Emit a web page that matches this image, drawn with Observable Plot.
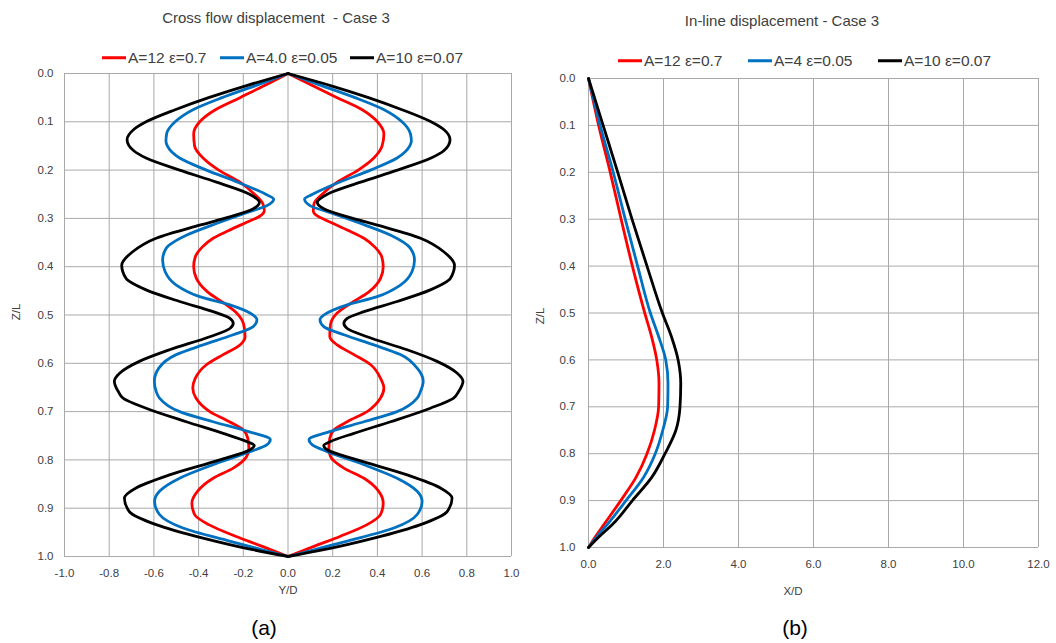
<!DOCTYPE html>
<html><head><meta charset="utf-8">
<script src="https://cdn.jsdelivr.net/npm/d3@7"></script>
<script src="https://cdn.jsdelivr.net/npm/@observablehq/plot@0.6"></script>
<style>
body{margin:0;background:#fff;font-family:"Liberation Sans",Arial,sans-serif;}
#root{position:relative;width:1056px;height:643px;overflow:hidden;background:#fff;}
#root svg{position:absolute;top:0;}
.abs{position:absolute;white-space:pre;color:#404040;transform:translate(-50%,-50%);line-height:1;}
.rot{transform:translate(-50%,-50%) rotate(-90deg);}
.leg{position:absolute;display:flex;align-items:center;font-size:15.5px;color:#404040;white-space:pre;transform:translateY(-50%);line-height:1;}
.sw{display:inline-block;width:24px;height:3px;margin-right:2px;}
</style></head><body><div id="root"></div>
<script>
// ---- Cross flow displacement (Y/D vs Z/L), right and left branches ----
const redZ = [0,.025,.05,.075,.1,.125,.15,.175,.2,.225,.25,.27,.284,.295,.308,.325,.341,.36,.38,.4,.424,.452,.476,.496,.52,.545,.562,.582,.603,.631,.651,.672,.7,.721,.738,.755,.776,.793,.817,.838,.865,.889,.913,.934,.958,.979,1];
const redRight = [0,.109,.22,.332,.40,.429,.421,.384,.314,.22,.153,.116,.113,.131,.19,.27,.34,.39,.42,.426,.414,.362,.28,.22,.19,.187,.22,.295,.37,.414,.429,.414,.354,.265,.205,.187,.183,.19,.25,.34,.406,.426,.414,.354,.235,.116,0];
const redLeft = [0,-.105,-.215,-.325,-.395,-.422,-.418,-.38,-.31,-.215,-.15,-.112,-.106,-.125,-.185,-.265,-.335,-.385,-.415,-.422,-.41,-.36,-.285,-.23,-.198,-.192,-.215,-.29,-.365,-.415,-.426,-.412,-.35,-.262,-.2,-.18,-.175,-.185,-.245,-.335,-.405,-.43,-.418,-.355,-.235,-.115,0];

const blueZ = [0,.025,.05,.075,.1,.125,.14,.15,.175,.2,.225,.25,.26,.274,.288,.308,.335,.362,.386,.41,.438,.462,.479,.496,.51,.524,.541,.562,.582,.61,.637,.658,.672,.7,.721,.741,.758,.769,.783,.81,.838,.865,.886,.913,.941,.968,.986,1];
const blueRight = [0,.15,.30,.43,.51,.548,.552,.545,.488,.369,.23,.11,.074,.10,.19,.31,.46,.548,.566,.555,.503,.399,.265,.175,.143,.16,.25,.384,.503,.578,.605,.593,.578,.488,.34,.19,.094,.109,.176,.34,.488,.578,.60,.578,.474,.265,.116,0];
const blueLeft = [0,-.145,-.295,-.425,-.505,-.543,-.546,-.54,-.485,-.365,-.225,-.10,-.064,-.095,-.185,-.305,-.455,-.545,-.561,-.55,-.5,-.395,-.26,-.17,-.139,-.155,-.245,-.38,-.5,-.578,-.598,-.59,-.575,-.485,-.335,-.18,-.079,-.095,-.17,-.335,-.485,-.575,-.597,-.575,-.47,-.262,-.115,0];

const blackZ = [0,.025,.05,.075,.1,.116,.137,.16,.175,.2,.225,.25,.267,.28,.3,.314,.341,.369,.397,.424,.448,.472,.493,.507,.517,.528,.545,.572,.596,.62,.637,.658,.672,.693,.721,.745,.762,.77,.779,.8,.831,.858,.879,.907,.934,.962,.986,1];
const blackRight = [0,.19,.36,.51,.64,.697,.725,.697,.64,.49,.325,.176,.131,.16,.29,.40,.593,.697,.745,.727,.637,.488,.34,.265,.25,.265,.354,.533,.667,.756,.783,.764,.741,.637,.459,.295,.19,.16,.175,.31,.533,.682,.734,.712,.593,.384,.16,0];
const blackLeft = [0,-.185,-.355,-.505,-.635,-.69,-.72,-.69,-.635,-.485,-.32,-.172,-.128,-.155,-.285,-.395,-.59,-.695,-.744,-.725,-.635,-.485,-.335,-.26,-.245,-.26,-.35,-.53,-.665,-.752,-.777,-.76,-.738,-.635,-.455,-.29,-.185,-.151,-.17,-.305,-.53,-.68,-.732,-.71,-.59,-.38,-.158,0];

// ---- In-line displacement (X/D vs Z/L) ----
const inlineZ = [0,.1,.2,.3,.4,.5,.55,.6,.65,.7,.75,.8,.85,.9,.95,.975,1];
const inlineRed = [0,.27,.58,.87,1.17,1.5,1.68,1.82,1.88,1.87,1.76,1.56,1.27,.86,.42,.2,0];
const inlineBlue = [0,.31,.66,.98,1.31,1.65,1.87,2.06,2.12,2.11,1.98,1.78,1.47,1.0,.51,.24,0];
const inlineBlack = [0,.39,.78,1.16,1.56,1.97,2.21,2.39,2.46,2.44,2.33,2.04,1.69,1.17,.65,.31,0];

// ---- labels / ticks ----
const namesA = ["A=12 ε=0.7","A=4.0 ε=0.05","A=10 ε=0.07"];
const namesB = ["A=12 ε=0.7","A=4 ε=0.05","A=10 ε=0.07"];
const seriesColors = ["#ff0000","#0070c0","#000000"];
const yTicksA = [-1.0,-0.8,-0.6,-0.4,-0.2,0.0,0.2,0.4,0.6,0.8,1.0];
const zTicks = [0.0,0.1,0.2,0.3,0.4,0.5,0.6,0.7,0.8,0.9,1.0];
const xTicksB = [0,2,4,6,8,10,12];
const titleA = "Cross flow displacement  - Case 3";
const titleB = "In-line displacement - Case 3";

const gridColor = "#a9a9a9";
const fmt = d => (+d).toFixed(1);

function rows(name, zs, vals, branch) {
  return zs.map((z, i) => ({series: name, branch: name + "|" + branch, z, v: vals[i]}));
}
const crossData = [
  ...rows(namesA[0], redZ, redRight, "R"), ...rows(namesA[0], redZ, redLeft, "L"),
  ...rows(namesA[1], blueZ, blueRight, "R"), ...rows(namesA[1], blueZ, blueLeft, "L"),
  ...rows(namesA[2], blackZ, blackRight, "R"), ...rows(namesA[2], blackZ, blackLeft, "L")
];
const inlineData = [
  ...rows(namesB[0], inlineZ, inlineRed, "I"),
  ...rows(namesB[1], inlineZ, inlineBlue, "I"),
  ...rows(namesB[2], inlineZ, inlineBlack, "I")
];

const style = {fontFamily: "Liberation Sans, Arial, sans-serif", fontSize: "11.5px", color: "#404040", background: "transparent"};

const plotA = Plot.plot({
  width: 530, height: 610,
  marginLeft: 64, marginRight: 19, marginTop: 73, marginBottom: 54,
  style,
  x: {domain: [-1, 1]},
  y: {domain: [0, 1], reverse: true},
  color: {domain: namesA, range: seriesColors},
  marks: [
    Plot.gridX(yTicksA, {stroke: gridColor, strokeOpacity: 1, strokeWidth: 1}),
    Plot.gridY(zTicks, {stroke: gridColor, strokeOpacity: 1, strokeWidth: 1}),
    Plot.axisX(yTicksA, {tickSize: 0, tickPadding: 12, tickFormat: fmt, label: null}),
    Plot.axisY(zTicks, {tickSize: 0, tickPadding: 11, tickFormat: fmt, label: null}),
    Plot.line(crossData, {x: "v", y: "z", z: "branch", stroke: "series", strokeWidth: 2.8, curve: "monotone-y"})
  ]
});

const plotB = Plot.plot({
  width: 526, height: 610,
  marginLeft: 58, marginRight: 18, marginTop: 78, marginBottom: 63,
  style,
  x: {domain: [0, 12]},
  y: {domain: [0, 1], reverse: true},
  color: {domain: namesB, range: seriesColors},
  marks: [
    Plot.gridX(xTicksB, {stroke: gridColor, strokeOpacity: 1, strokeWidth: 1}),
    Plot.gridY(zTicks, {stroke: gridColor, strokeOpacity: 1, strokeWidth: 1}),
    Plot.axisX(xTicksB, {tickSize: 0, tickPadding: 12, tickFormat: fmt, label: null}),
    Plot.axisY(zTicks, {tickSize: 0, tickPadding: 13, tickFormat: fmt, label: null}),
    Plot.line(inlineData, {x: "v", y: "z", z: "branch", stroke: "series", strokeWidth: 2.8, curve: "monotone-y"})
  ]
});

const root = document.getElementById("root");
plotA.style.left = "0px";
plotB.style.left = "530px";
root.appendChild(plotA);
root.appendChild(plotB);

function addText(txt, x, y, size, extraClass) {
  const d = document.createElement("div");
  d.className = "abs" + (extraClass ? " " + extraClass : "");
  d.textContent = txt;
  d.style.left = x + "px"; d.style.top = y + "px"; d.style.fontSize = size + "px";
  root.appendChild(d);
  return d;
}
function addLegend(names, xs, y) {
  names.forEach((n, i) => {
    const d = document.createElement("div");
    d.className = "leg";
    d.style.left = xs[i] + "px"; d.style.top = y + "px";
    const sw = document.createElement("span");
    sw.className = "sw"; sw.style.background = seriesColors[i];
    const t = document.createElement("span"); t.textContent = n;
    d.appendChild(sw); d.appendChild(t);
    root.appendChild(d);
  });
}

addText(titleA, 276, 17, 15);
addText(titleB, 782, 20, 15);
addLegend(namesA, [102, 220, 350], 58);
addLegend(namesB, [618, 748, 878], 61);
addText("Z/L", 17, 312, 11.5, "rot");
addText("Z/L", 541, 316, 11.5, "rot");
addText("Y/D", 288, 591, 11.5);
addText("X/D", 793, 592, 11.5);
const a = addText("(a)", 264, 627, 21); a.style.color = "#000";
const b = addText("(b)", 795, 627, 21); b.style.color = "#000";
</script></body></html>
